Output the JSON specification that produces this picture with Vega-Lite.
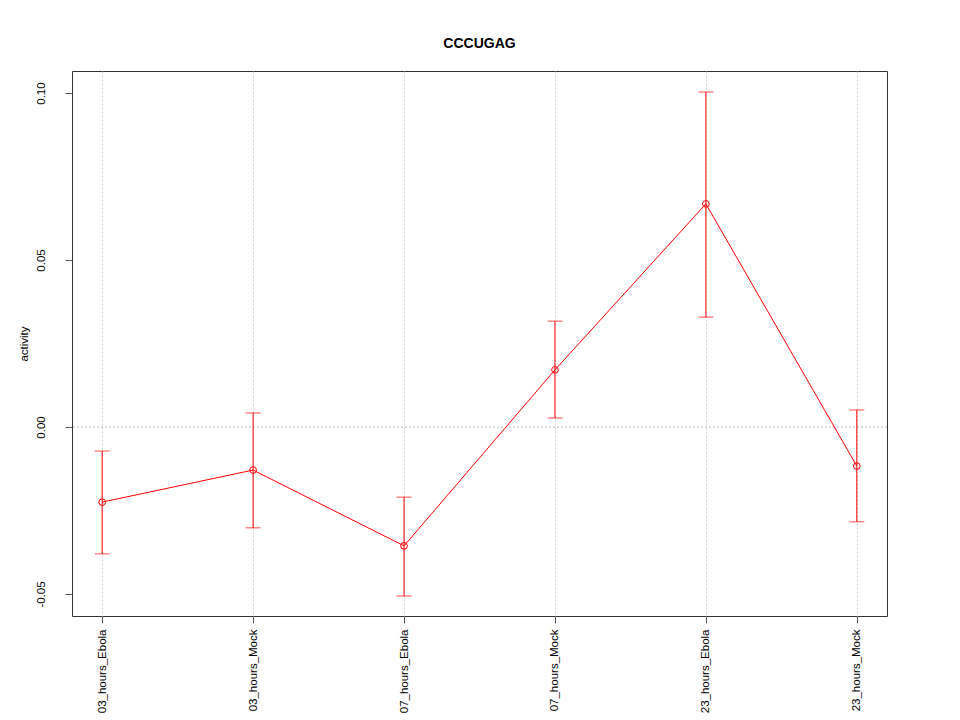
{
  "$schema": "https://vega.github.io/schema/vega-lite/v6.json",
  "autosize": "none",
  "width": 815,
  "height": 545,
  "padding": {"left": 72, "top": 71, "right": 73, "bottom": 104},
  "background": "white",
  "title": {"text": "CCCUGAG", "fontSize": 14, "font": "Liberation Sans", "fontWeight": "bold", "anchor": "middle", "offset": 20, "color": "black"},
  "config": {
    "view": {"stroke": "#333333", "strokeWidth": 1},
    "axis": {"labelFont": "Liberation Sans", "titleFont": "Liberation Sans", "labelFontSize": 11.5, "titleFontSize": 11.5, "labelColor": "black", "titleColor": "black", "tickColor": "#555555", "domain": false, "gridColor": "#d3d3d3", "gridDash": [2, 2], "gridWidth": 1, "tickSize": 7, "titleFontWeight": "normal"}
  },
  "data": {"values": [
    {"group": "03_hours_Ebola", "mean": -0.0225, "lower": -0.0380, "upper": -0.0072},
    {"group": "03_hours_Mock", "mean": -0.0129, "lower": -0.0302, "upper": 0.0042},
    {"group": "07_hours_Ebola", "mean": -0.0356, "lower": -0.0506, "upper": -0.0210},
    {"group": "07_hours_Mock", "mean": 0.0171, "lower": 0.0027, "upper": 0.0317},
    {"group": "23_hours_Ebola", "mean": 0.0668, "lower": 0.0329, "upper": 0.1003},
    {"group": "23_hours_Mock", "mean": -0.0117, "lower": -0.0284, "upper": 0.0051}
  ]},
  "encoding": {
    "x": {"field": "group", "type": "ordinal", "sort": null,
      "scale": {"type": "point", "padding": 0.2},
      "axis": {"title": null, "labelAngle": -90, "labelAlign": "right", "labelBaseline": "middle", "labelPadding": 6, "grid": true}}
  },
  "layer": [
    {"mark": {"type": "rule", "color": "#dcdcdc", "strokeDash": [2, 2], "strokeWidth": 1},
     "encoding": {"x": null, "y": {"datum": 0, "type": "quantitative"}}},
    {"mark": {"type": "rule", "color": "red", "strokeWidth": 1},
     "encoding": {
       "y": {"field": "lower", "type": "quantitative",
         "scale": {"domain": [-0.0566, 0.1066], "nice": false, "zero": false},
         "axis": {"title": "activity", "values": [-0.05, 0, 0.05, 0.1], "labelExpr": "replace(format(datum.value, '.2f'), '\u2212', '-')", "labelAngle": -90, "labelAlign": "center", "labelBaseline": "bottom", "labelPadding": 19, "grid": false, "titlePadding": 6}},
       "y2": {"field": "upper"}}},
    {"mark": {"type": "tick", "color": "red", "size": 15, "thickness": 1, "orient": "horizontal"},
     "encoding": {"y": {"field": "lower", "type": "quantitative"}}},
    {"mark": {"type": "tick", "color": "red", "size": 15, "thickness": 1, "orient": "horizontal"},
     "encoding": {"y": {"field": "upper", "type": "quantitative"}}},
    {"mark": {"type": "line", "color": "red", "strokeWidth": 1},
     "encoding": {"y": {"field": "mean", "type": "quantitative"}}},
    {"mark": {"type": "point", "shape": "circle", "color": "red", "filled": false, "size": 45, "strokeWidth": 1, "opacity": 1},
     "encoding": {"y": {"field": "mean", "type": "quantitative"}}}
  ]
}
